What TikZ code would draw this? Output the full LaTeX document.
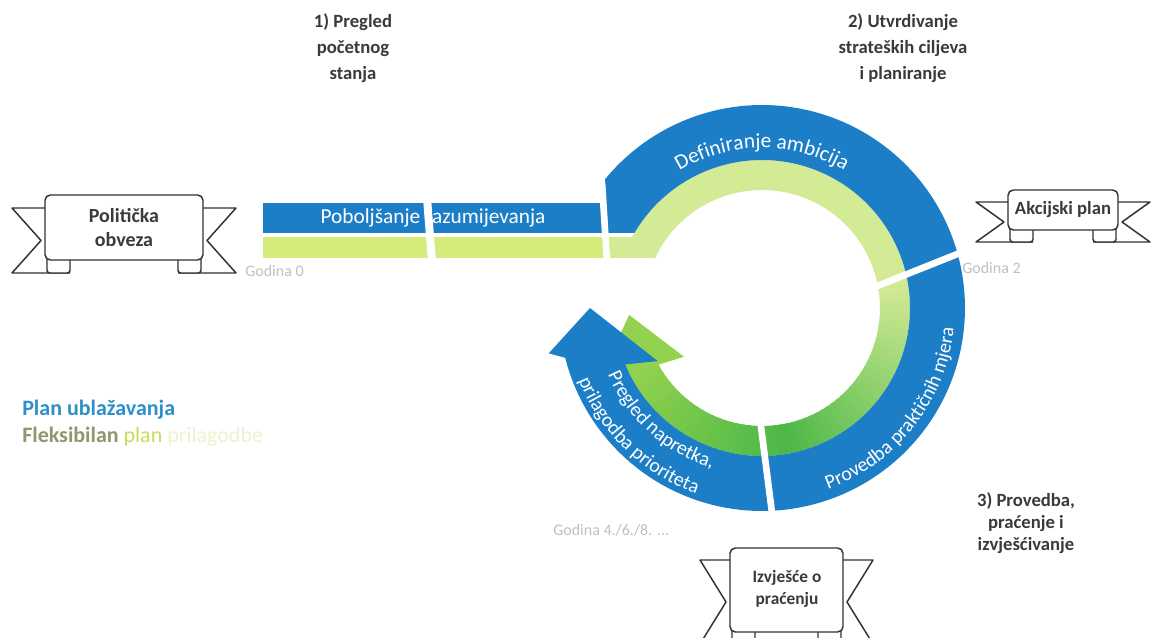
\documentclass[tikz,border=0pt]{standalone}
\usepackage{fontspec}
\setmainfont{Carlito}
\usetikzlibrary{decorations.text}
\definecolor{cblue}{RGB}{28,126,198}
\definecolor{gbar}{RGB}{214,236,122}
\definecolor{glight}{RGB}{212,235,150}
\definecolor{gmid}{RGB}{77,184,72}
\definecolor{garrow}{RGB}{146,210,78}
\definecolor{txt}{RGB}{58,58,58}
\definecolor{faint}{RGB}{192,192,192}
\definecolor{legblue}{RGB}{47,143,202}
\definecolor{legolive}{RGB}{140,152,110}
\definecolor{legplan}{RGB}{200,220,90}
\definecolor{legfaint}{RGB}{236,243,205}
\definecolor{ribline}{RGB}{50,50,50}
\newcommand\myribbon[6]{%
  \filldraw[rib] ({#1+25},{#4-#6}) -- ({#1-#5},{#4-#6}) -- ({#1-4},{(#2+#4)/2-#6}) -- ({#1-#5},{#2-#6}) -- ({#1+2},{#2-#6});
  \filldraw[rib] ({#3-25},{#4-#6}) -- ({#3+#5},{#4-#6}) -- ({#3+4},{(#2+#4)/2-#6}) -- ({#3+#5},{#2-#6}) -- ({#3-2},{#2-#6});
  \filldraw[rib, rounded corners=2pt] ({#1+2},{#4+5}) rectangle ({#1+25},{#4-#6});
  \filldraw[rib, rounded corners=2pt] ({#3-2},{#4+5}) rectangle ({#3-25},{#4-#6});
  \filldraw[rib, rounded corners=4pt] (#1,#2) rectangle (#3,#4);
}
\begin{document}
\begin{tikzpicture}[x=0.75pt,y=0.75pt,
  lbl/.style={text=txt, font=\bfseries\fontsize{14}{19.5}\selectfont, align=center},
  rib/.style={draw=ribline, line width=1.1pt, fill=white, line join=round},
  ribtext/.style={text=txt, font=\bfseries\fontsize{15}{18}\selectfont, align=center},
  gap/.style={draw=white, line width=5pt},
  yearlbl/.style={text=faint, font=\fontsize{12}{14}\selectfont, anchor=west, inner sep=0pt},
  arctext/.style={decorate, decoration={text along path, text align=center, text={|\color{white}\fontsize{15}{17}\selectfont|#1}}},
  arctextbig/.style={decorate, decoration={text along path, text align=center, text={|\color{white}\fontsize{16}{18}\selectfont|#1}}}
]
\useasboundingbox (0,0) rectangle (1157,-638);
\fill[white] (0,0) rectangle (1157,-638);

% top labels
\node[lbl] (s1) at (353,-48) {1) Pregled\\početnog\\stanja};
\node[lbl] (s2) at (903,-48) {2) Utvrdivanje\\strateških ciljeva\\i planiranje};
\node[lbl, font=\bfseries\fontsize{14}{16.5}\selectfont] (s3) at (1026,-523) {3) Provedba,\\praćenje i\\izvješćivanje};

% ribbons
\myribbon{45}{-195}{203}{-260}{33}{13}
\node[ribtext] (polit) at (124,-228) {Politička\\obveza};
\myribbon{1008}{-190}{1118}{-230}{32}{12}
\node[ribtext, font=\bfseries\fontsize{14}{17}\selectfont] (akc) at (1063,-210) {Akcijski plan};
\myribbon{730}{-548}{843}{-632}{30}{12}
\node[ribtext, font=\bfseries\fontsize{13}{17}\selectfont] (izv) at (787,-589) {Izvješće o\\praćenju};

% horizontal bar
\fill[cblue] (263,-203) rectangle (606,-233);
\fill[gbar] (263,-237) rectangle (610,-258);
\node[text=white, font=\fontsize{16}{18}\selectfont] (bar) at (433,-218) {Poboljšanje razumijevanja};

% ring
\begin{scope}[shift={(762,-308)}]
  % green first segment
  \fill[glight] (-152,50) -- (-152,71) -- (151.3:148) -- plot[domain=151.3:11, samples=80] (\x:148)
     -- plot[domain=11:154.9, samples=80] (\x:118) -- cycle;
  % green gradient
  \foreach \a in {12,9,...,-78}{
    \pgfmathtruncatemacro\p{(12-\a)*100/90}
    \pgfmathsetmacro\aa{\a+0.6}
    \pgfmathsetmacro\ab{\a-3.6}
    \fill[gmid!\p!glight] plot[domain=\aa:\ab, samples=4] (\x:148) -- plot[domain=\ab:\aa, samples=4] (\x:118) -- cycle;
  }
  \foreach \a in {-81,-84,...,-153}{
    \pgfmathtruncatemacro\p{(-81-\a)*100/72}
    \pgfmathsetmacro\aa{\a+0.6}
    \pgfmathsetmacro\ab{\a-3.6}
    \fill[garrow!\p!gmid] plot[domain=\aa:\ab, samples=4] (\x:148) -- plot[domain=\ab:\aa, samples=4] (\x:118) -- cycle;
  }
  \fill[garrow] (-151.3:118) -- (-148:92) -- (-177:133) -- (-158:172) -- (-155:148) -- cycle;
  % blue band with arrow
  \fill[cblue] (-157,75) -- (140.6:203) -- plot[domain=140.6:-165.8, samples=200] (\x:203)
     -- (-168:218) -- (180:172) -- (-153:117) -- (-157.6:148)
     -- plot[domain=-157.6:149.5, samples=200] (\x:148) -- cycle;
  % gaps
  \draw[gap] (9.5:105) -- (15.8:215);
  \draw[gap] (-91.5:105) -- (-87:215);
  % arc texts
  \path[arctextbig={Definiranje ambicija}] (140:160) arc[start angle=140, end angle=40, radius=120pt];
  \path[arctext={Provedba praktičnih mjera}] (-88:193) arc[start angle=-88, end angle=12, radius=144.75pt];
  \path[arctext={Pregled napretka,}] (-174:168) arc[start angle=-174, end angle=-90, radius=126pt];
  \path[arctext={prilagodba prioriteta}] (-177:197) arc[start angle=-177, end angle=-91, radius=147.75pt];
\end{scope}

% bar gaps
\draw[gap, line width=6pt] (427,-198) -- (432,-262);
\draw[gap] (602,-182) -- (607,-262);

% year labels
\node[yearlbl] (g0) at (245,-271) {Godina 0};
\node[yearlbl] (g2) at (962,-268) {Godina 2};
\node[yearlbl] (g4) at (553,-530) {Godina 4./6./8. ...};

% legend
\node[anchor=west, inner sep=0pt, text=legblue, font=\bfseries\fontsize{16.5}{19}\selectfont] (leg1) at (22,-410) {Plan ublažavanja};
\node[anchor=west, inner sep=0pt, font=\fontsize{16.5}{19}\selectfont] (leg2) at (22,-437) {\textcolor{legolive}{\bfseries Fleksibilan} \textcolor{legplan}{plan} \textcolor{legfaint}{prilagodbe}};
\end{tikzpicture}
\end{document}
